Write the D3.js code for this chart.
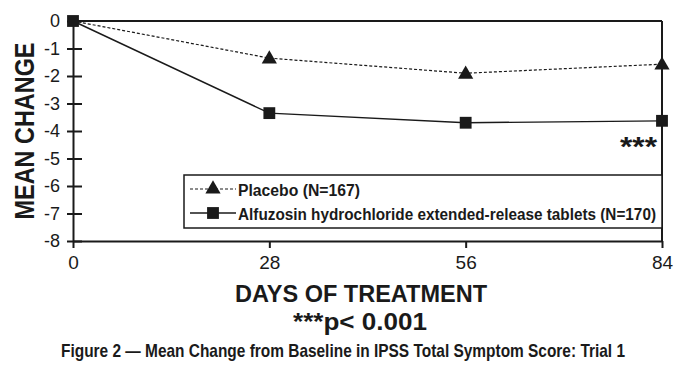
<!DOCTYPE html>
<html>
<head>
<meta charset="utf-8">
<script src="https://cdn.jsdelivr.net/npm/d3@7"></script>
<style>
  body { margin: 0; background: #ffffff; }
  svg { display: block; }
</style>
</head>
<body>
<div id="chart"></div>
<script>
// Mean change from baseline in IPSS total symptom score, trial 1

var days = [0, 28, 56, 84];
var placebo = [0, -1.35, -1.9, -1.57];
var alfuzosin = [0, -3.35, -3.7, -3.63];
var yTicks = [0, -1, -2, -3, -4, -5, -6, -7, -8];
var legendLabels = ["Placebo (N=167)", "Alfuzosin hydrochloride extended-release tablets (N=170)"];

(function() {

    var width = 677;
    var height = 373;
    var ink = "#1a1a1a";
    var sans = "Liberation Sans, Arial, Helvetica, sans-serif";

    var svg = d3.select("#chart")
        .append("svg")
        .attr("width", width)
        .attr("height", height);

    svg.append("rect")
        .attr("width", width)
        .attr("height", height)
        .attr("fill", "#ffffff");

    var x = d3.scaleLinear().domain([0, 84]).range([73, 662]);
    var y = d3.scaleLinear().domain([-8, 0]).range([241, 21]);

    // Frame: top and right borders
    svg.append("line")
        .attr("x1", x(0)).attr("x2", x(84))
        .attr("y1", y(0)).attr("y2", y(0))
        .attr("stroke", ink).attr("stroke-width", 2);

    svg.append("line")
        .attr("x1", x(84)).attr("x2", x(84))
        .attr("y1", y(0)).attr("y2", y(-8))
        .attr("stroke", ink).attr("stroke-width", 2);

    // Y axis
    var yAxis = d3.axisLeft(y)
        .tickValues(yTicks)
        .tickSizeInner(6)
        .tickSizeOuter(0)
        .tickPadding(7)
        .tickFormat(function(d) { return String(d); });

    var gy = svg.append("g")
        .attr("transform", "translate(" + x(0) + ",0)")
        .call(yAxis);

    gy.select(".domain").attr("stroke", ink).attr("stroke-width", 2);
    gy.selectAll(".tick line")
        .attr("x1", -6).attr("x2", 9)
        .attr("stroke", ink).attr("stroke-width", 2);
    gy.selectAll(".tick text")
        .attr("fill", ink)
        .attr("font-family", sans)
        .attr("font-size", "18px");

    // X axis
    var xAxis = d3.axisBottom(x)
        .tickValues(days)
        .tickSizeInner(7)
        .tickSizeOuter(0)
        .tickPadding(8);

    var gx = svg.append("g")
        .attr("transform", "translate(0," + y(-8) + ")")
        .call(xAxis);

    gx.select(".domain").attr("stroke", ink).attr("stroke-width", 2);
    gx.selectAll(".tick line").attr("stroke", ink).attr("stroke-width", 2);
    gx.selectAll(".tick text")
        .attr("fill", ink)
        .attr("font-family", sans)
        .attr("font-size", "19px");

    // Axis titles
    svg.append("text")
        .attr("transform", "translate(34," + ((y(0) + y(-8)) / 2) + ") rotate(-90)")
        .attr("text-anchor", "middle")
        .attr("fill", ink)
        .attr("font-family", sans)
        .attr("font-weight", "bold")
        .attr("font-size", "28px")
        .attr("textLength", 177)
        .attr("lengthAdjust", "spacingAndGlyphs")
        .text("MEAN CHANGE");

    svg.append("text")
        .attr("x", 361)
        .attr("y", 302)
        .attr("text-anchor", "middle")
        .attr("fill", ink)
        .attr("font-family", sans)
        .attr("font-weight", "bold")
        .attr("font-size", "24px")
        .attr("textLength", 252)
        .attr("lengthAdjust", "spacingAndGlyphs")
        .text("DAYS OF TREATMENT");

    svg.append("text")
        .attr("x", 360)
        .attr("y", 330)
        .attr("text-anchor", "middle")
        .attr("fill", ink)
        .attr("font-family", sans)
        .attr("font-weight", "bold")
        .attr("font-size", "24px")
        .attr("textLength", 134)
        .attr("lengthAdjust", "spacingAndGlyphs")
        .text("***p< 0.001");

    svg.append("text")
        .attr("x", 343)
        .attr("y", 357)
        .attr("text-anchor", "middle")
        .attr("fill", ink)
        .attr("font-family", sans)
        .attr("font-weight", "bold")
        .attr("font-size", "19px")
        .attr("textLength", 564)
        .attr("lengthAdjust", "spacingAndGlyphs")
        .text("Figure 2 \u2014 Mean Change from Baseline in IPSS Total Symptom Score: Trial 1");

    // Lines
    var line = d3.line()
        .x(function(d) { return x(d[0]); })
        .y(function(d) { return y(d[1]); });

    var placeboPts = days.map(function(d, i) { return [d, placebo[i]]; });
    var alfuPts = days.map(function(d, i) { return [d, alfuzosin[i]]; });

    svg.append("path")
        .datum(placeboPts)
        .attr("d", line)
        .attr("fill", "none")
        .attr("stroke", ink)
        .attr("stroke-width", 1.2)
        .attr("stroke-dasharray", "3,2");

    svg.append("path")
        .datum(alfuPts)
        .attr("d", line)
        .attr("fill", "none")
        .attr("stroke", ink)
        .attr("stroke-width", 1.4);

    var tri = d3.symbol().type(d3.symbolTriangle).size(100);
    var sq = d3.symbol().type(d3.symbolSquare).size(140);

    svg.selectAll(".tri")
        .data(placeboPts.slice(1))
        .enter()
        .append("path")
        .attr("class", "tri")
        .attr("d", tri)
        .attr("transform", function(d) {
            return "translate(" + x(d[0]) + "," + (y(d[1]) + 1) + ")";
        })
        .attr("fill", ink);

    svg.selectAll(".sq")
        .data(alfuPts)
        .enter()
        .append("path")
        .attr("class", "sq")
        .attr("d", sq)
        .attr("transform", function(d) {
            return "translate(" + x(d[0]) + "," + y(d[1]) + ")";
        })
        .attr("fill", ink);

    // Significance marker at day 84
    svg.append("text")
        .attr("x", x(84) - 5)
        .attr("y", 156)
        .attr("text-anchor", "end")
        .attr("fill", ink)
        .attr("font-family", sans)
        .attr("font-weight", "bold")
        .attr("font-size", "27px")
        .attr("textLength", 37)
        .attr("lengthAdjust", "spacingAndGlyphs")
        .text("***");

    // Legend box
    var legend = svg.append("g")
        .attr("transform", "translate(184,175)");

    legend.append("rect")
        .attr("width", x(84) - 184)
        .attr("height", 53)
        .attr("fill", "#ffffff")
        .attr("stroke", ink)
        .attr("stroke-width", 1.5);

    var rowY = [14, 38];

    legend.selectAll(".leg-line")
        .data(rowY)
        .enter()
        .append("line")
        .attr("x1", 6).attr("x2", 52)
        .attr("y1", function(d) { return d; })
        .attr("y2", function(d) { return d; })
        .attr("stroke", ink)
        .attr("stroke-width", function(d, i) { return i === 0 ? 1.2 : 1.4; })
        .attr("stroke-dasharray", function(d, i) { return i === 0 ? "3,2" : null; });

    legend.append("path")
        .attr("d", tri)
        .attr("transform", "translate(29," + rowY[0] + ")")
        .attr("fill", ink);

    legend.append("path")
        .attr("d", sq)
        .attr("transform", "translate(29," + rowY[1] + ")")
        .attr("fill", ink);

    legend.selectAll(".leg-text")
        .data(legendLabels)
        .enter()
        .append("text")
        .attr("x", 54)
        .attr("y", function(d, i) { return rowY[i] + 7; })
        .attr("fill", ink)
        .attr("font-family", sans)
        .attr("font-weight", "bold")
        .attr("font-size", "16px")
        .attr("textLength", function(d, i) { return i === 0 ? 122 : 418; })
        .attr("lengthAdjust", "spacingAndGlyphs")
        .text(function(d) { return d; });

})();
</script>
</body>
</html>
